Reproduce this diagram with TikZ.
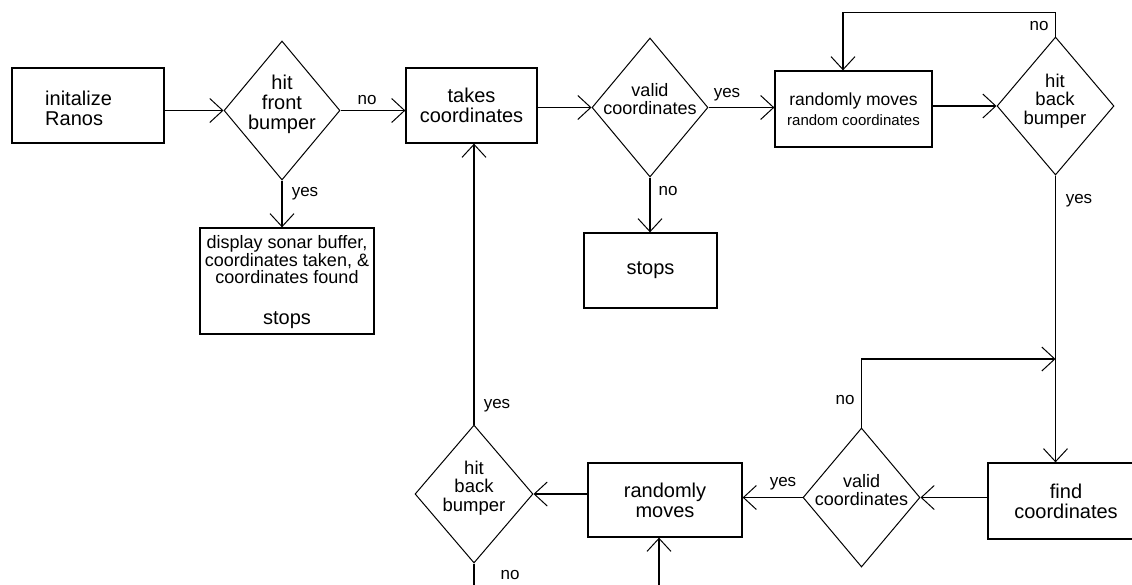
\documentclass[tikz,border=0pt]{standalone}
\usepackage{fontspec}
\setmainfont{Liberation Sans}
\usetikzlibrary{arrows.meta,shapes.geometric}
\begin{document}
\begin{tikzpicture}[x=1pt,y=-1pt,
  box/.style={draw, line width=1.3pt, inner sep=0pt, align=center, font=\fontsize{20}{20}\selectfont},
  dia/.style={draw, diamond, line width=1pt, inner sep=0pt},
  dtxt/.style={align=center, inner sep=0pt, font=\fontsize{20}{20}\selectfont},
  btxt/.style={align=center, inner sep=0pt, font=\fontsize{18.5}{18.5}\selectfont},
  lbl/.style={font=\fontsize{17}{17}\selectfont, inner sep=0pt},
  arr/.style={line width=1.3pt, -{Straight Barb[length=13pt,width=24pt,line width=1pt]}},
  ln/.style={line width=1.3pt}]
\useasboundingbox (0,0) rectangle (1132,584);
\fill[white] (0,0) rectangle (1132,584);

% row 1
\node[box, minimum width=152pt, minimum height=75pt] (init) at (88,105.5) {};
\node[dtxt, align=left, anchor=west] at (45,108) {initalize\\Ranos};
\node[dia, minimum width=116pt, minimum height=139pt] (d1) at (282,110.5) {};
\node[dtxt] at (282,104) {hit\\front\\bumper};
\node[box, minimum width=131pt, minimum height=75pt] (takes) at (471.5,105.5) {takes\\coordinates};
\node[dia, minimum width=116pt, minimum height=139pt] (d2) at (650,107.5) {};
\node[dtxt, font=\fontsize{18}{18}\selectfont] at (650,99) {valid\\coordinates};
\node[box, minimum width=157pt, minimum height=76pt] (rand) at (853.5,109) {{\fontsize{17.5}{18}\selectfont randomly moves}\\{\fontsize{15}{18}\selectfont random coordinates}};
\node[dia, minimum width=117pt, minimum height=138pt] (d3) at (1055.5,106) {};
\node[btxt] at (1055,101) {hit\\back\\bumper};

% row 2
\node[box, minimum width=174pt, minimum height=106pt] (disp) at (287,281) {};
\node[dtxt, font=\fontsize{18}{17.5}\selectfont] at (287,260) {display sonar buffer,\\coordinates taken, \&\\coordinates found};
\node[dtxt] at (287,320) {stops};
\node[box, minimum width=133pt, minimum height=75pt] (stops) at (650.5,270.5) {stops};

% row 3
\node[dia, minimum width=118pt, minimum height=138pt] (d5) at (474,494) {};
\node[btxt] at (474,488) {hit\\back\\bumper};
\node[box, minimum width=154pt, minimum height=74pt] (rm2) at (665,500) {randomly\\moves};
\node[dia, minimum width=117pt, minimum height=139pt] (d4) at (861.5,497.5) {};
\node[dtxt, font=\fontsize{18}{18}\selectfont] at (861.5,490) {valid\\coordinates};
\node[box, minimum width=156pt, minimum height=76pt] (find) at (1066,501) {find\\coordinates};

\coordinate (j) at (1055.5,359);
\coordinate (e1) at (474,590);
\coordinate (e2) at (659,590);

% connectors
\draw[arr] (init.east |- d1.west) -- (d1.west);
\draw[arr] (d1.east) -- (d1.east -| takes.west);
\draw[arr] (d1.south) -- (d1.south |- disp.north);
\draw[arr] (takes.east |- d2.west) -- (d2.west);
\draw[arr] (d2.east) -- (d2.east -| rand.west);
\draw[arr] (d2.south) -- (d2.south |- stops.north);
\draw[arr] (rand.east |- d3.west) -- (d3.west);
\draw[arr] (d3.north) -- ++(0,-24) -| ([xshift=-10.5pt]rand.north);
\draw[arr] (d3.south) -- (d3.south |- find.north);
\draw[arr] (find.west |- d4.east) -- (d4.east);
\draw[arr] (d4.north) |- (j);
\draw[arr] (d4.west) -- (d4.west -| rm2.east);
\draw[arr] (rm2.west |- d5.east) -- (d5.east);
\draw[arr] (d5.north) -- (d5.north |- takes.south);
\draw[ln] (d5.south) -- (e1);
\draw[arr] (e2) -- (e2 |- rm2.south);

% labels
\node[lbl] at (367,100) {no};
\node[lbl] at (305,194) {yes};
\node[lbl] at (727,95) {yes};
\node[lbl] at (668,191) {no};
\node[lbl] at (1039,26) {no};
\node[lbl] at (1079,201) {yes};
\node[lbl] at (845,400) {no};
\node[lbl] at (783,484) {yes};
\node[lbl] at (497,406) {yes};
\node[lbl] at (510,575) {no};
\end{tikzpicture}
\end{document}
